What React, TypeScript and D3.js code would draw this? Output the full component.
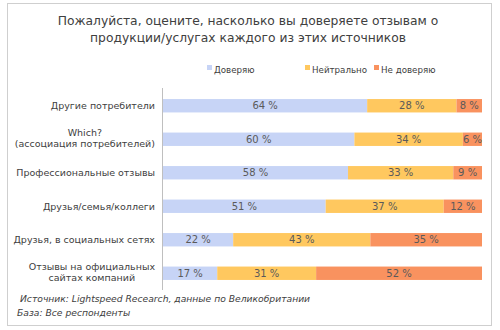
import React, { useEffect, useRef } from "react";
import * as d3 from "d3";

const categories: string[][] = [
  ["Другие потребители"],
  ["Which?", "(ассоциация потребителей)"],
  ["Профессиональные отзывы"],
  ["Друзья/семья/коллеги"],
  ["Друзья, в социальных сетях"],
  ["Отзывы на официальных", "сайтах компаний"],
];
const seriesNames = ["Доверяю", "Нейтрально", "Не доверяю"];
const trust = [64, 60, 58, 51, 22, 17];
const neutral = [28, 34, 33, 37, 43, 31];
const distrust = [8, 6, 9, 12, 35, 52];
const titleLines = [
  "Пожалуйста, оцените, насколько вы доверяете отзывам о",
  "продукции/услугах каждого из этих источников",
];
const footLines = [
  "Источник: Lightspeed Recearch, данные по Великобритании",
  "База: Все респонденты",
];

const colors = ["#C7D4F6", "#FFC85F", "#F9925F"];
const FONT = "'DejaVu Sans', Verdana, sans-serif";

export default function App() {
  const ref = useRef<SVGSVGElement>(null);

  useEffect(() => {
    const svg = d3.select(ref.current);
    svg.selectAll("*").remove();
    const W = 500, H = 330;

    svg.append("rect").attr("x", 0).attr("y", 0).attr("width", W).attr("height", H).attr("fill", "#fff");
    svg.append("rect").attr("x", 7.5).attr("y", 3.5).attr("width", 484).attr("height", 322)
      .attr("fill", "#fff").attr("stroke", "#cfcfcf");

    // title
    svg.append("g").selectAll("text").data(titleLines).join("text")
      .attr("x", 248).attr("y", (_, i) => 24.5 + i * 17)
      .attr("text-anchor", "middle").attr("font-family", FONT).attr("font-size", 12.3)
      .attr("fill", "#404040").text(d => d);

    // legend
    const legendX = [207, 305, 374];
    const lg = svg.append("g");
    seriesNames.forEach((n, i) => {
      lg.append("rect").attr("x", legendX[i]).attr("y", 65).attr("width", 5).attr("height", 5).attr("fill", colors[i]);
      lg.append("text").attr("x", legendX[i] + 7).attr("y", 72.5).attr("font-family", FONT)
        .attr("font-size", 8.7).attr("fill", "#404040").text(n);
    });

    const x0 = 163, x1 = 482;
    const x = d3.scaleLinear().domain([0, 100]).range([x0, x1]);
    const y = d3.scaleBand<number>().domain(d3.range(categories.length)).range([89, 290]).paddingInner(0.6).paddingOuter(0.3);

    const rows = categories.map((_, i) => {
      const vals = [trust[i], neutral[i], distrust[i]];
      let acc = 0;
      return vals.map((v, k) => {
        const s = { i, k, v, a: acc, b: acc + v };
        acc += v;
        return s;
      });
    }).flat();

    svg.append("g").selectAll("rect").data(rows).join("rect")
      .attr("x", d => x(d.a)).attr("width", d => x(d.b) - x(d.a))
      .attr("y", d => y(d.i)!).attr("height", y.bandwidth())
      .attr("fill", d => colors[d.k]);

    svg.append("g").selectAll("text").data(rows).join("text")
      .attr("x", d => (x(d.a) + x(d.b)) / 2)
      .attr("y", d => y(d.i)! + y.bandwidth() / 2 + 3.5)
      .attr("text-anchor", "middle").attr("font-family", FONT).attr("font-size", 10)
      .attr("fill", "#5a5a5a").text(d => `${d.v} %`);

    // axis line
    svg.append("line").attr("x1", x0 - 0.5).attr("x2", x0 - 0.5).attr("y1", 88).attr("y2", 290)
      .attr("stroke", "#bfbfbf");

    // category labels
    const labelRight = 155;
    categories.forEach((lines, i) => {
      const g = svg.append("g");
      const cy = y(i)! + y.bandwidth() / 2;
      const n = lines.length;
      const texts = lines.map((l, j) =>
        g.append("text").attr("font-family", FONT).attr("font-size", 9.5).attr("fill", "#404040")
          .attr("y", n > 1 ? cy + 2.25 + (j - (n - 1) / 2) * 11.5 : cy + 3.5).text(l)
      );
      const widths = texts.map(t => (t.node() as SVGTextElement).getComputedTextLength());
      const maxW = Math.max(...widths);
      const center = labelRight - maxW / 2;
      texts.forEach(t => t.attr("x", center).attr("text-anchor", "middle"));
    });

    // footnote
    svg.append("g").selectAll("text").data(footLines).join("text")
      .attr("x", (_, i) => (i === 0 ? 20 : 17)).attr("y", (_, i) => 302 + i * 14)
      .attr("font-family", FONT).attr("font-size", 9.2).attr("font-style", "italic")
      .attr("fill", "#404040").text(d => d);
  }, []);

  return (
    <svg ref={ref} width={500} height={330} style={{ position: "absolute", left: 0, top: 0, display: "block" }} />
  );
}
